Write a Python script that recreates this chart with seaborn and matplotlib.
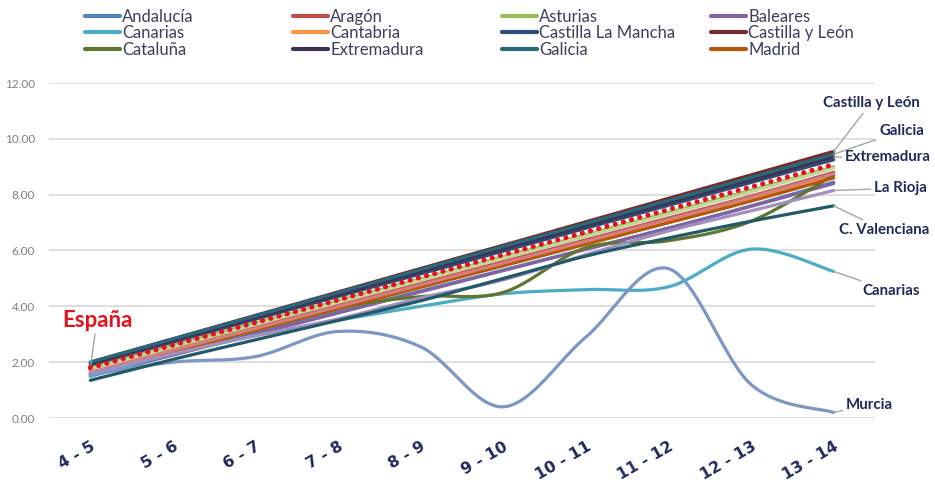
import numpy as np
import pandas as pd
import matplotlib
matplotlib.use("Agg")
import matplotlib.pyplot as plt
import seaborn as sns
from matplotlib.lines import Line2D

# ---------------- data ----------------
categories = ["4 - 5", "5 - 6", "6 - 7", "7 - 8", "8 - 9", "9 - 10",
              "10 - 11", "11 - 12", "12 - 13", "13 - 14"]

andalucia = [1.55, 2.30, 3.05, 3.80, 4.55, 5.30, 6.05, 6.80, 7.60, 8.45]
aragon = [1.70, 2.48, 3.26, 4.04, 4.82, 5.60, 6.38, 7.16, 7.95, 8.80]
asturias = [1.80, 2.60, 3.40, 4.20, 4.98, 5.77, 6.56, 7.36, 8.16, 9.00]
baleares = [1.50, 2.25, 3.00, 3.76, 4.52, 5.28, 6.04, 6.80, 7.58, 8.40]
canarias = [1.50, 2.30, 2.95, 3.50, 4.00, 4.45, 4.60, 4.70, 6.05, 5.25]
cantabria = [1.60, 2.38, 3.16, 3.94, 4.72, 5.50, 6.28, 7.06, 7.86, 8.70]
castilla_la_mancha = [1.90, 2.72, 3.54, 4.35, 5.16, 5.98, 6.80, 7.62, 8.44, 9.25]
castilla_y_leon = [2.00, 2.84, 3.68, 4.52, 5.36, 6.19, 7.03, 7.87, 8.71, 9.55]
cataluna = [1.70, 2.50, 3.20, 3.95, 4.35, 4.50, 6.10, 6.35, 7.05, 8.70]
extremadura = [1.95, 2.77, 3.60, 4.42, 5.25, 6.07, 6.89, 7.71, 8.53, 9.35]
galicia = [2.00, 2.83, 3.66, 4.49, 5.32, 6.14, 6.97, 7.79, 8.62, 9.45]
madrid = [1.60, 2.37, 3.14, 3.91, 4.68, 5.45, 6.22, 6.99, 7.77, 8.60]
murcia = [1.55, 2.00, 2.20, 3.10, 2.55, 0.40, 2.90, 5.35, 1.20, 0.20]
navarra = [1.65, 2.43, 3.21, 3.99, 4.77, 5.55, 6.33, 7.11, 7.91, 8.75]
pais_vasco = [1.75, 2.55, 3.35, 4.14, 4.93, 5.72, 6.51, 7.30, 8.10, 8.95]
la_rioja = [1.60, 2.30, 2.95, 3.55, 4.30, 4.95, 5.85, 6.70, 7.42, 8.15]
c_valenciana = [1.35, 2.10, 2.80, 3.50, 4.20, 5.00, 5.80, 6.45, 7.05, 7.60]
espana = [1.80, 2.61, 3.42, 4.23, 5.04, 5.85, 6.66, 7.47, 8.28, 9.08]

series_names = ["Andalucía", "Aragón", "Asturias", "Baleares", "Canarias", "Cantabria",
                "Castilla La Mancha", "Castilla y León", "Cataluña", "Extremadura",
                "Galicia", "Madrid", "Murcia", "Navarra", "País Vasco", "La Rioja",
                "C. Valenciana", "España"]
series_values = [andalucia, aragon, asturias, baleares, canarias, cantabria,
                 castilla_la_mancha, castilla_y_leon, cataluna, extremadura,
                 galicia, madrid, murcia, navarra, pais_vasco, la_rioja,
                 c_valenciana, espana]
series_colors = ["#4F81BD", "#C0504D", "#9BBB59", "#8064A2", "#4BACC6", "#F79646",
                 "#2C4D75", "#772C2A", "#5F7530", "#3F3151", "#276A7C", "#B65708",
                 "#7B97C6", "#D47F7D", "#C3D69B", "#A28FBF", "#1F5A66", "#E8101A"]
legend_names = series_names[:12]

# ---------------- helpers ----------------
def smooth_curve(xs, ys, n=24):
    """Excel-like smoothed line (Catmull-Rom Bezier) for drawing only."""
    xs = np.asarray(xs, float)
    ys = np.asarray(ys, float)
    px = np.concatenate([[xs[0]], xs, [xs[-1]]])
    py = np.concatenate([[ys[0]], ys, [ys[-1]]])
    outx, outy = [], []
    t = np.linspace(0, 1, n, endpoint=False)
    for i in range(1, len(px) - 2):
        p0x, p1x, p2x, p3x = px[i - 1], px[i], px[i + 1], px[i + 2]
        p0y, p1y, p2y, p3y = py[i - 1], py[i], py[i + 1], py[i + 2]
        c1x = p1x + (p2x - p0x) / 6.0
        c1y = p1y + (p2y - p0y) / 6.0
        c2x = p2x - (p3x - p1x) / 6.0
        c2y = p2y - (p3y - p1y) / 6.0
        bx = (1 - t) ** 3 * p1x + 3 * (1 - t) ** 2 * t * c1x + 3 * (1 - t) * t ** 2 * c2x + t ** 3 * p2x
        by = (1 - t) ** 3 * p1y + 3 * (1 - t) ** 2 * t * c1y + 3 * (1 - t) * t ** 2 * c2y + t ** 3 * p2y
        outx.extend(bx)
        outy.extend(by)
    outx.append(xs[-1])
    outy.append(ys[-1])
    return np.array(outx), np.array(outy)

# ---------------- figure ----------------
sns.set_theme(style="white")
plt.rcParams["font.family"] = ["Lato", "DejaVu Sans"]

W, H = 935, 486
fig = plt.figure(figsize=(W / 100, H / 100), dpi=100)
ax = fig.add_axes([49 / W, (H - 418) / H, (875 - 49) / W, (418 - 83) / H])

xpos = np.arange(len(categories))
for name, vals, col in zip(series_names, series_values, series_colors):
    sx, sy = smooth_curve(xpos, vals)
    df = pd.DataFrame({"x": sx, "y": sy})
    if name == "España":
        sns.lineplot(data=df, x="x", y="y", ax=ax, color=col, lw=3.6, sort=False,
                     estimator=None, zorder=5, linestyle=(0, (0.05, 1.65)))
        ax.lines[-1].set_dash_capstyle("round")
    else:
        sns.lineplot(data=df, x="x", y="y", ax=ax, color=col, lw=2.3, sort=False,
                     estimator=None, zorder=3)

ax.set_xlim(-0.5, len(categories) - 0.5)
ax.set_ylim(0, 12)
ax.set_yticks(np.arange(0, 12.01, 2))
ax.set_yticklabels([f"{v:.2f}" for v in np.arange(0, 12.01, 2)],
                   fontsize=8.5, color="#7F7F7F")
ax.set_xticks(xpos)
ax.set_xticklabels(categories, rotation=30, ha="right", rotation_mode="anchor",
                   fontsize=11.3, fontweight="bold", color="#1F2A5C",
                   family=["DejaVu Sans"])
ax.tick_params(axis="x", length=0, pad=15)
ax.tick_params(axis="y", length=0, pad=10)
ax.yaxis.grid(True, color="#D9D9D9", lw=1.2)
ax.xaxis.grid(False)
for s in ax.spines.values():
    s.set_visible(False)
ax.set_xlabel("")
ax.set_ylabel("")

# ---------------- legend (4 columns, placed manually) ----------------
col_x = [85, 293, 502, 711]
col_groups = [[0, 4, 8], [1, 5, 9], [2, 6, 10], [3, 7, 11]]
for cx, grp in zip(col_x, col_groups):
    handles = [Line2D([0], [0], color=series_colors[i], lw=3) for i in grp]
    labels = [legend_names[i] for i in grp]
    leg = fig.legend(handles, labels, loc="upper left",
                     bbox_to_anchor=(cx / W, 1 - 9 / H), frameon=False,
                     fontsize=12, handlelength=2.1, handletextpad=0.12,
                     labelspacing=0.02, borderaxespad=0, borderpad=0)
    for t in leg.get_texts():
        t.set_color("#3A3F5C")

# ---------------- annotations ----------------
lab_color = "#1F2A5C"
arrow = dict(arrowstyle="-", color="#A6A6A6", lw=1.0, shrinkA=0, shrinkB=0)
last = len(categories) - 1

def note(text, yval, tx, ty, ha="left", color=lab_color, size=10.8, xidx=last):
    ax.annotate(text, xy=(xidx, yval), xytext=(tx, H - ty), textcoords="figure pixels",
                ha=ha, va="center", fontsize=size, fontweight="bold", color=color,
                arrowprops=arrow, annotation_clip=False)

note("Castilla y León", castilla_y_leon[-1], 871, 103, ha="center")
note("Galicia", galicia[-1], 879, 131)
note("Extremadura", extremadura[-1], 845, 157)
note("La Rioja", la_rioja[-1], 874, 188)
note("C. Valenciana", c_valenciana[-1], 884, 230, ha="center")
note("Canarias", canarias[-1], 862, 291)
note("Murcia", murcia[-1], 846, 405)
note("España", espana[0], 97, 320, ha="center", color="#E8101A", size=16, xidx=0)

fig.savefig("out.png", dpi=100)
